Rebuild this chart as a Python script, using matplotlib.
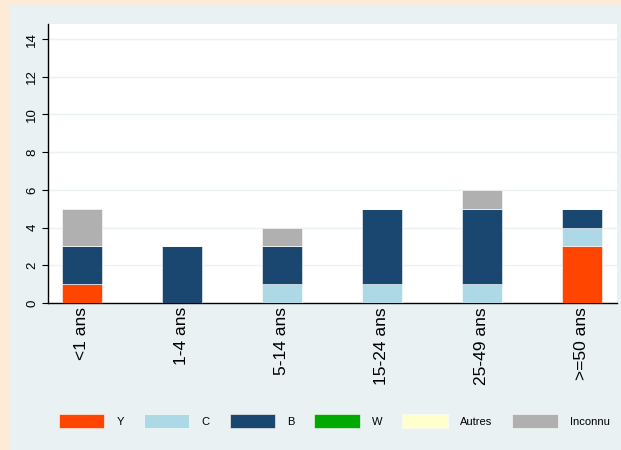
import numpy as np
import matplotlib
matplotlib.use('Agg')
import matplotlib.pyplot as plt
from matplotlib.patches import Rectangle

plt.rcParams['font.family'] = ['Liberation Sans', 'DejaVu Sans']

# data
groups = ['<1 ans', '1-4 ans', '5-14 ans', '15-24 ans', '25-49 ans', '>=50 ans']
series = ['Y', 'C', 'B', 'W', 'Autres', 'Inconnu']
Y = [1, 0, 0, 0, 0, 3]
C = [0, 0, 1, 1, 1, 1]
B = [2, 3, 2, 4, 4, 1]
W = [0, 0, 0, 0, 0, 0]
autres = [0, 0, 0, 0, 0, 0]
inconnu = [2, 0, 1, 0, 1, 0]
colours = ['#FF4500', '#ADD8E6', '#1A476F', '#00AA00', '#FFFFCC', '#B0B0B0']

fig = plt.figure(figsize=(6.21, 4.5), dpi=100)
fig.patch.set_facecolor('#FDEBD9')
# inner panel (behind the axes)
fig.patches.append(Rectangle((10 / 621, 0), 1, 1 - 6 / 450, transform=fig.transFigure,
                             facecolor='#EAF1F3', edgecolor='none', zorder=-5))

ax = fig.add_axes([48 / 621, 1 - 303 / 450, 569 / 621, 279 / 450])
ax.set_facecolor('white')

x = np.arange(len(groups))
bottom = np.zeros(len(groups))
for name, vals, col in zip(series, [Y, C, B, W, autres, inconnu], colours):
    vals = np.array(vals, dtype=float)
    ax.bar(x, vals, 0.4, bottom=bottom, color=col, edgecolor='white',
           linewidth=0.4, label=name, zorder=3)
    bottom += vals

ax.set_xlim(-0.34, 5.35)
ax.set_ylim(0, 14.8)
ax.set_yticks(range(0, 15, 2))
ax.set_yticklabels([str(v) for v in range(0, 15, 2)], rotation=90, va='center', fontsize=9.5)
ax.set_xticks(x)
ax.set_xticklabels(groups, rotation=90, fontsize=12.5)
ax.tick_params(axis='x', length=0, pad=3)
ax.tick_params(axis='y', length=4, width=0.8, pad=3)
ax.grid(axis='y', color='#EAF2F3', lw=1, zorder=0)
for s in ['top', 'right']:
    ax.spines[s].set_visible(False)
for s in ['left', 'bottom']:
    ax.spines[s].set_linewidth(1)

h, l = ax.get_legend_handles_labels()
fig.legend(h, l, ncol=6, loc='center left', bbox_to_anchor=(51 / 621, 1 - 421 / 450),
           frameon=False, fontsize=8, handlelength=4.1, handleheight=1.5,
           handletextpad=1.08, columnspacing=1.8, borderpad=0.2)

fig.savefig('out.png', dpi=100, facecolor=fig.get_facecolor())
